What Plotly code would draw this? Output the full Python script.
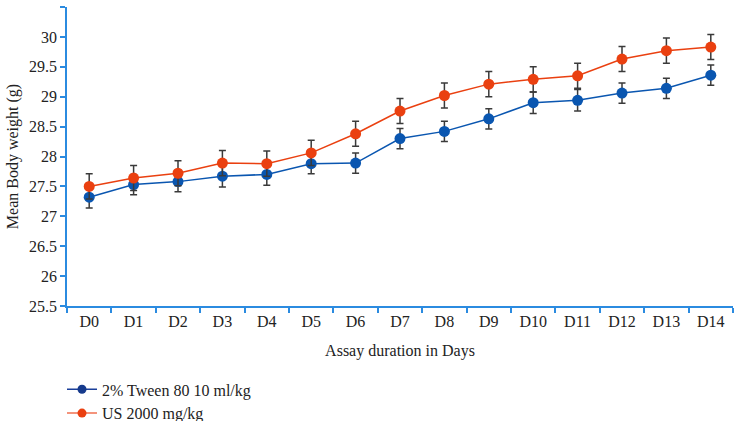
import plotly.graph_objects as go

days = ["D0", "D1", "D2", "D3", "D4", "D5", "D6", "D7", "D8", "D9", "D10", "D11", "D12", "D13", "D14"]
tween = [27.32, 27.53, 27.58, 27.67, 27.70, 27.88, 27.89, 28.30, 28.42, 28.63, 28.90, 28.94, 29.06, 29.14, 29.36]
tween_err = [0.18, 0.17, 0.17, 0.18, 0.18, 0.17, 0.17, 0.17, 0.17, 0.17, 0.18, 0.18, 0.17, 0.17, 0.17]
us = [27.50, 27.64, 27.72, 27.89, 27.88, 28.06, 28.38, 28.76, 29.02, 29.21, 29.29, 29.35, 29.63, 29.77, 29.83]
us_err = [0.21, 0.21, 0.21, 0.21, 0.21, 0.21, 0.21, 0.21, 0.21, 0.21, 0.21, 0.21, 0.21, 0.21, 0.21]
y_ticks = [25.5, 26, 26.5, 27, 27.5, 28, 28.5, 29, 29.5, 30, 30.5]

font = "Liberation Serif"
axis_color = "#2b8be0"

fig = go.Figure()
fig.add_trace(go.Scatter(
    x=days, y=tween, name="2% Tween 80 10 ml/kg", mode="lines+markers",
    line=dict(color="#0a56b0", width=1.5),
    marker=dict(color="#0a56b0", size=11),
    error_y=dict(type="data", array=tween_err, color="#3a3a3a", thickness=1.5, width=3.5),
    showlegend=False,
))
fig.add_trace(go.Scatter(
    x=days, y=us, name="US 2000 mg/kg", mode="lines+markers",
    line=dict(color="#ea4010", width=1.5),
    marker=dict(color="#ea4010", size=11),
    error_y=dict(type="data", array=us_err, color="#3a3a3a", thickness=1.5, width=3.5),
    showlegend=False,
))
# legend entries (styled like the reference legend)
fig.add_trace(go.Scatter(
    x=[None], y=[None], name="2% Tween 80 10 ml/kg", mode="lines+markers",
    line=dict(color="#1a3f9a", width=1.5), marker=dict(color="#163a8c", size=9),
))
fig.add_trace(go.Scatter(
    x=[None], y=[None], name="US 2000 mg/kg", mode="lines+markers",
    line=dict(color="#f07050", width=1.5), marker=dict(color="#ea4010", size=9),
))

fig.update_layout(
    width=734, height=421,
    margin=dict(l=67, r=1, t=7, b=115, autoexpand=False),
    paper_bgcolor="white", plot_bgcolor="white",
    font=dict(family=font, size=16, color="#222"),
    showlegend=True,
    legend=dict(orientation="v", x=-0.0075, xanchor="left", y=-0.222, yanchor="top",
                font=dict(family=font, size=16), tracegroupgap=0,
                bgcolor="rgba(0,0,0,0)"),
    xaxis=dict(
        type="category", range=[-0.5, 14.5], automargin=False,
        showline=True, linecolor=axis_color, linewidth=1.5,
        ticks="outside", tickson="boundaries", ticklen=5, tickcolor=axis_color, tickwidth=1.5,
        showgrid=False, zeroline=False,
        title=dict(text="Assay duration in Days", font=dict(family=font, size=16), standoff=16),
        tickfont=dict(family=font, size=16),
    ),
    yaxis=dict(
        range=[25.5, 30.5], tickvals=y_ticks, ticktext=[f"{v:g}" for v in y_ticks],
        automargin=False,
        showline=True, linecolor=axis_color, linewidth=1.5,
        ticks="outside", ticklen=5, tickcolor=axis_color, tickwidth=1.5,
        showgrid=False, zeroline=False,
        title=dict(text="Mean Body weight (g)", font=dict(family=font, size=16), standoff=6),
        tickfont=dict(family=font, size=16),
    ),
)

fig.write_html("out.html", config={"displayModeBar": False},
               post_script="document.body.style.margin='0';")
